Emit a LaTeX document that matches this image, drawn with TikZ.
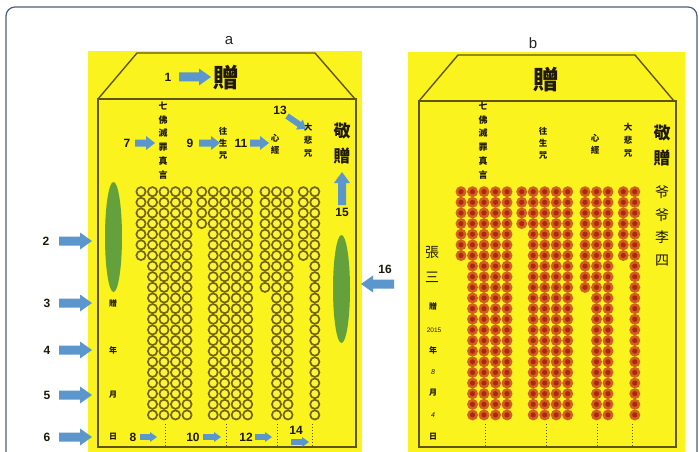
\documentclass[tikz,border=0pt]{standalone}
\usepackage{fontspec}
\setmainfont{Liberation Sans}
\newfontfamily\cjk{Noto Sans CJK TC}
\definecolor{envy}{RGB}{250,243,30}
\definecolor{envline}{RGB}{95,85,10}
\definecolor{coinline}{RGB}{115,100,10}
\definecolor{arrowblue}{RGB}{91,150,205}
\definecolor{leaf}{RGB}{100,160,60}
\definecolor{framecol}{RGB}{80,95,120}
\definecolor{coinor}{RGB}{210,95,30}
\definecolor{coinred}{RGB}{170,40,20}
\definecolor{inkc}{RGB}{30,25,10}
\newcommand\barr[7]{%
  \pgfmathsetmacro\baang{atan2(-((#4)-(#2)),(#3)-(#1))}%
  \pgfmathsetmacro\balen{veclen((#3)-(#1),(#4)-(#2))}%
  \pgfmathsetmacro\babase{\balen-(#7)}%
  \fill[arrowblue,shift={(#1,#2)},rotate=\baang]
    (0pt,-#5pt) -- (\babase pt,-#5pt) -- (\babase pt,-#6pt) -- (\balen pt,0pt)
    -- (\babase pt,#6pt) -- (\babase pt,#5pt) -- (0pt,#5pt) -- cycle;}
\begin{document}
\begin{tikzpicture}[x=1pt,y=-1pt,
  num/.style={inner sep=0pt,text=inkc,font=\bfseries\fontsize{12}{12}\selectfont},
  lab/.style={inner sep=0pt,text=black!85,font=\fontsize{15}{15}\selectfont},
  vtxt/.style={inner sep=0pt,align=center,text=inkc},
  ring/.style={draw=coinline,line width=1.7pt,fill=envy!85!white},
  envl/.style={draw=envline,line width=1.4pt}]
\useasboundingbox (0,0) rectangle (699,452);
\clip (0,0) rectangle (699,452);
\fill[white] (0,0) rectangle (699,452);
\draw[framecol,line width=1.2pt,rounded corners=9pt] (6,470) -- (6,7) -- (697,7) -- (697,470);

% ---------- panel a ----------
\node[lab] (la) at (229,41) {a};
\fill[envy] (88,51) rectangle (362,460);
\draw[envl] (98,99) -- (137,53) -- (315,53) -- (355,99);
\draw[envl] (98,99) rectangle (356,447);
\fill[leaf] (113.5,237) ellipse [x radius=8.5, y radius=55];
\fill[leaf] (341.5,289) ellipse [x radius=8.5, y radius=54];
\foreach \cx/\last in {141/6,152.5/21,164/21,175.5/21,187/21,
                       201.7/3,213.2/21,224.7/21,236.2/21,247.7/21,
                       265/9,276.5/21,288/21,303.3/6,314.8/21}{
  \foreach \r in {0,...,\last}{
    \draw[ring] (\cx,191.7+\r*10.63) circle [radius=4.6];}}
\foreach \dx in {165,226,277,312}{
  \draw[envline,line width=1pt,dotted] (\dx,424) -- (\dx,447);}
\node[inner sep=0pt,text=inkc,font=\cjk\bfseries\fontsize{26}{26}\selectfont] (ta0) at (226,78) {贈};
\node[vtxt,font=\cjk\bfseries\fontsize{9}{13.8}\selectfont] (ta1) at (163,140.5) {七\\佛\\滅\\罪\\真\\言};
\node[vtxt,font=\cjk\bfseries\fontsize{8.5}{12}\selectfont] (ta2) at (223,143) {往\\生\\咒};
\node[vtxt,font=\cjk\bfseries\fontsize{8.5}{12}\selectfont] (ta3) at (275,144) {心\\經};
\node[vtxt,font=\cjk\bfseries\fontsize{8.5}{13}\selectfont] (ta4) at (308,140) {大\\悲\\咒};
\node[vtxt,font=\cjk\bfseries\fontsize{17}{25}\selectfont] (ta5) at (342,143) {敬\\贈};
\foreach \ch/\yy [count=\i] in {贈/303,年/350,月/395,日/437}{
  \node[inner sep=0pt,text=inkc,font=\cjk\bfseries\fontsize{8}{8}\selectfont] (tl\i) at (113,\yy) {\ch};}

% numbers and arrows
\node[num] (n1) at (168,77) {1};   \barr{179}{77}{211}{77}{4.5}{8.5}{12}
\node[num] (n2) at (46,241) {2};   \barr{59}{241}{92}{241}{4.5}{8.5}{12}
\node[num] (n3) at (47,303) {3};   \barr{59}{303}{92}{303}{4.5}{8.5}{12}
\node[num] (n4) at (47,350) {4};   \barr{59}{350}{92}{350}{4.5}{8.5}{12}
\node[num] (n5) at (47,395) {5};   \barr{59}{395}{92}{395}{4.5}{8.5}{12}
\node[num] (n6) at (47,437) {6};   \barr{59}{437}{92}{437}{4.5}{8.5}{12}
\node[num] (n7) at (127,143) {7};  \barr{135}{143}{155}{143}{3.5}{7}{9}
\node[num] (n9) at (190,143) {9};  \barr{199}{143}{220}{143}{3.5}{7}{9}
\node[num] (n11) at (241,143) {11}; \barr{250}{143}{269}{143}{3.5}{7}{9}
\node[num] (n13) at (280,110) {13}; \barr{287}{116}{306}{129}{3}{6}{8}
\node[num] (n15) at (342,212) {15}; \barr{342}{205}{342}{172}{4}{8}{11}
\node[num] (n16) at (385,269) {16}; \barr{394}{284}{361}{284}{4.5}{8.5}{12}
\node[num] (n8) at (133,437) {8};   \barr{140}{437}{157}{437}{2.8}{5}{7}
\node[num] (n10) at (193,437) {10}; \barr{203}{437}{221}{437}{2.8}{5}{7}
\node[num] (n12) at (246,437) {12}; \barr{255}{437}{272}{437}{2.8}{5}{7}
\node[num] (n14) at (296,430) {14}; \barr{291}{442}{309}{442}{2.8}{5}{7}

% ---------- panel b ----------
\node[lab] (lb) at (533,43) {b};
\fill[envy] (408,52) rectangle (685,460);
\draw[envl] (419,101) -- (458,55) -- (635,55) -- (674,101);
\draw[envl] (419,101) rectangle (676,447);
\foreach \cx/\last in {141/6,152.5/21,164/21,175.5/21,187/21,
                       201.7/3,213.2/21,224.7/21,236.2/21,247.7/21,
                       265/9,276.5/21,288/21,303.3/6,314.8/21}{
  \foreach \r in {0,...,\last}{
    \fill[coinor] (\cx+320,191.7+\r*10.63) circle [radius=5.5];
    \fill[coinred] (\cx+320,191.7+\r*10.63) circle [radius=2.6];}}
\foreach \dx in {485,546,597,632}{
  \draw[envline,line width=1pt,dotted] (\dx,424) -- (\dx,447);}
\node[inner sep=0pt,text=inkc,font=\cjk\bfseries\fontsize{26}{26}\selectfont] (tb0) at (546,80) {贈};
\node[vtxt,font=\cjk\bfseries\fontsize{9}{13.8}\selectfont] (tb1) at (483,140.5) {七\\佛\\滅\\罪\\真\\言};
\node[vtxt,font=\cjk\bfseries\fontsize{8.5}{12}\selectfont] (tb2) at (543,143) {往\\生\\咒};
\node[vtxt,font=\cjk\bfseries\fontsize{8.5}{12}\selectfont] (tb3) at (595,144) {心\\經};
\node[vtxt,font=\cjk\bfseries\fontsize{8.5}{13}\selectfont] (tb4) at (628,140) {大\\悲\\咒};
\node[vtxt,font=\cjk\bfseries\fontsize{17}{25}\selectfont] (tb5) at (662,145) {敬\\贈};
\node[vtxt,font=\cjk\fontsize{14}{22.5}\selectfont] (tb6) at (662,226) {爷\\爷\\李\\四};
\node[vtxt,font=\cjk\fontsize{14}{25}\selectfont] (tb7) at (432,264) {張\\三};
\foreach \ch/\yy [count=\i] in {贈/306,年/350,月/393,日/437}{
  \node[inner sep=0pt,text=inkc,font=\cjk\bfseries\fontsize{8}{8}\selectfont] (tr\i) at (433,\yy) {\ch};}
\node[inner sep=0pt,text=inkc,font=\fontsize{6.5}{6.5}\selectfont] (yr) at (434,330) {2015};
\node[inner sep=0pt,text=inkc,font=\itshape\fontsize{7}{7}\selectfont] (mo) at (433,372) {8};
\node[inner sep=0pt,text=inkc,font=\itshape\fontsize{7}{7}\selectfont] (dy) at (433,415) {4};
\end{tikzpicture}
\end{document}
